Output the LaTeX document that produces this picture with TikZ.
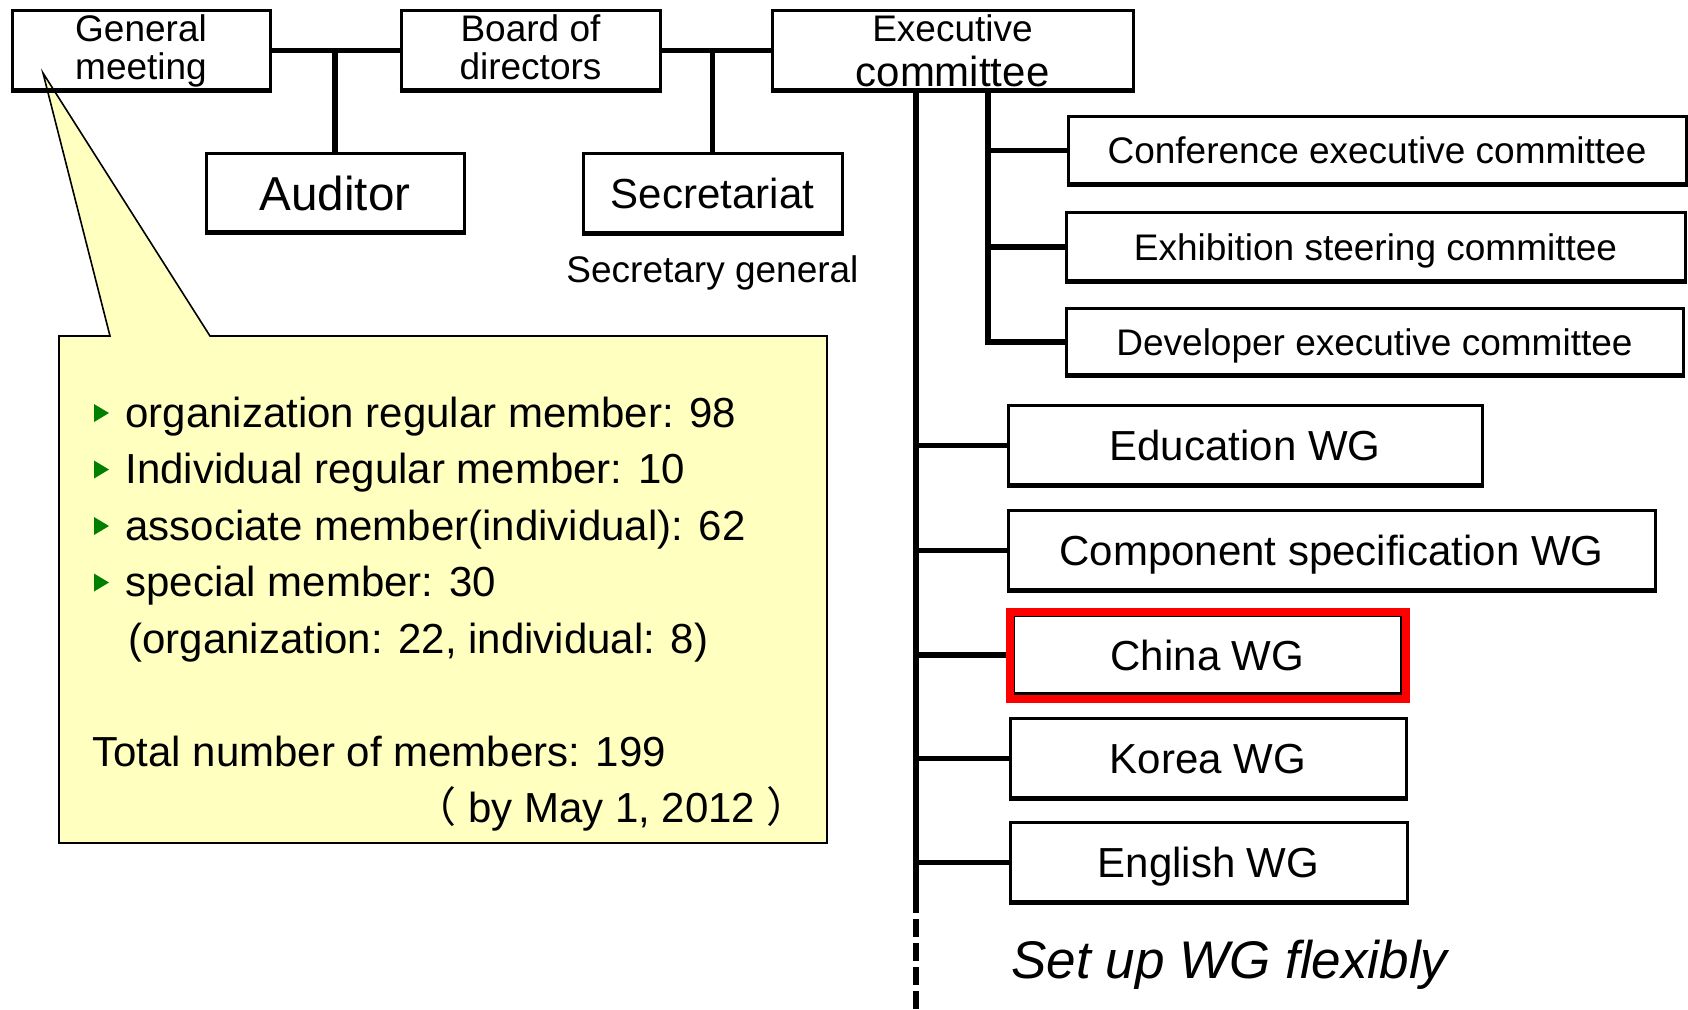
\documentclass[tikz,border=0pt]{standalone}
\usepackage{fontspec}
\setmainfont{Liberation Sans}
\newfontfamily\cjk{Noto Sans CJK SC}
\usetikzlibrary{positioning, fit, calc}

\definecolor{calloutyellow}{RGB}{255,255,192}
\definecolor{bulletgreen}{RGB}{0,128,0}

\begin{document}
\begin{tikzpicture}[
    x=0.5pt, y=-0.5pt,
    box/.style={rectangle, draw, line width=1.5pt, inner sep=0pt, align=center},
    one_line/.style={text height=#1, text depth=0pt},
    small/.style={font=\fontsize{18.5}{19}\selectfont},
    mid/.style={font=\fontsize{21}{22}\selectfont},
    big/.style={font=\fontsize{23.8}{25}\selectfont},
    line/.style={line width=2.6pt},
    dashed_line/.style={line width=2.6pt, dash pattern=on 9pt off 3pt},
    shadow_line/.style={line width=2.2pt},
    highlight/.style={rectangle, draw=red, line width=4pt, inner sep=1.1pt},
    callout/.style={draw, fill=calloutyellow, line width=0.8pt, line join=miter},
    member/.style={font=\fontsize{21}{22}\selectfont, inner sep=0pt, anchor=base west},
    bullet/.style={fill=bulletgreen},
]
\useasboundingbox (0,0) rectangle (1688,1009);

%% CALLOUT
    \draw[callout] (59,336) -- (110,336) -- (43,73) -- (210,336) -- (827,336)
        -- (827,843) -- (59,843) -- cycle;

    \node[member] (m_org) at (125,427) {organization regular member: 98};
    \node[member] (m_ind) at (125,483.5) {Individual regular member: 10};
    \node[member] (m_assoc) at (125,540) {associate member(individual): 62};
    \node[member] (m_spec) at (125,596.5) {special member: 30};
    \node[member] (m_spec_detail) at (128,653) {(organization: 22, individual: 8)};
    \node[member] (m_total) at (92,766) {Total number of members: 199};
    \node[member] (m_date) at (414,822.5) {{\cjk （} by May 1, 2012 {\cjk ）}};

    \foreach \m in {m_org, m_ind, m_assoc, m_spec}
        \fill[bullet] ([shift={(-31,-23)}]\m.base west) -- ++(0,18) -- ++(15,-9) -- cycle;

%% NODES
    % top row
    \node[box, small, minimum width=129pt, minimum height=40.5pt] (gen_meeting) at (141,50.5) {General\\meeting};
    \node[box, small, minimum width=129.5pt, minimum height=40.5pt] (board) at (530.5,50.5) {Board of\\directors\vphantom{g}};
    \node[box, small, minimum width=180.5pt, minimum height=40.5pt] (exec) at (952.5,50.5)
        {Executive\\[3.5pt]{\fontsize{21}{22}\selectfont committee}};

    \node[box, big, one_line=17pt, minimum width=129pt, minimum height=40pt] (auditor) at (335,193) {Auditor};
    \node[box, mid, one_line=15pt, minimum width=129.5pt, minimum height=40.5pt] (secretariat) at (712.5,193.5) {Secretariat};
    \node[small, inner sep=0pt, below=10pt of secretariat] (sec_general) {Secretary general};

    % committees
    \node[box, small, one_line=13.25pt, minimum width=309pt, minimum height=34.5pt] (conf) at (1377,150.5) {Conference executive committee};
    \node[box, small, one_line=13.25pt, minimum width=309.5pt, minimum height=35pt] (exhib) at (1375.5,247) {Exhibition steering committee};
    \node[box, small, one_line=13.25pt, minimum width=308.5pt, minimum height=34pt] (devel) at (1374.5,342) {Developer executive committee};

    % working groups
    \node[box, mid, one_line=15pt, minimum width=237pt, minimum height=40.5pt] (edu) at (1245,445.5) {Education WG};
    \node[box, mid, one_line=15pt, minimum width=323.5pt, minimum height=40.5pt] (comp) at (1331.5,550.5) {Component specification WG};
    \node[box, mid, one_line=15pt, minimum width=194.3pt, minimum height=39.8pt] (china) at (1207.5,655) {China WG};
    \node[box, mid, one_line=15pt, minimum width=198pt, minimum height=40.5pt] (korea) at (1208,758.5) {Korea WG};
    \node[box, mid, one_line=15pt, minimum width=198.5pt, minimum height=40.5pt] (english) at (1208.5,862.5) {English WG};

    \node[font=\fontsize{26.5}{28}\selectfont\itshape, inner sep=0pt, anchor=base west] (flex_note) at (1011,978) {Set up WG flexibly};

    % box shadows
    \foreach \b in {gen_meeting, board, exec, auditor, secretariat, conf, exhib, devel, edu, comp, china, korea, english}
        \draw[shadow_line] ([yshift=1.1pt]\b.south west) -- ([yshift=1.1pt]\b.south east);

    \node[highlight, fit=(china)] (china_frame) {};

%% LINES
    \coordinate (trunk_top) at (916,91);
    \coordinate (trunk_end) at (916,895);
    \coordinate (trunk_bottom) at (916,1009);
    \coordinate (sub_top) at (988,91);

    \draw[line] (gen_meeting.east) -- (board.west);
    \draw[line] (board.east) -- (exec.west);
    \draw[line] (auditor.north) -- (auditor.north |- gen_meeting.east);
    \draw[line] (secretariat.north) -- (secretariat.north |- board.east);

    \draw[line] (trunk_top) -- (trunk_end);
    \draw[dashed_line] (trunk_end) -- (trunk_bottom);
    \draw[line] (sub_top) |- (devel.west);
    \foreach \c in {conf, exhib}
        \draw[line] (\c.west -| sub_top) -- (\c.west);
    \foreach \wg in {edu, comp, china_frame, korea, english}
        \draw[line] (\wg.west -| trunk_top) -- (\wg.west);

\end{tikzpicture}
\end{document}
